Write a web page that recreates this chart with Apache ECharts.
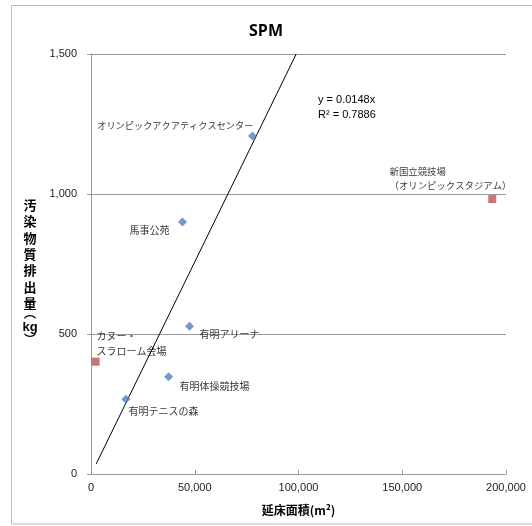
<!DOCTYPE html>
<html><head><meta charset="utf-8">
<script src="https://cdn.jsdelivr.net/npm/echarts@6/dist/echarts.min.js"></script>
<style>html,body{margin:0;padding:0;background:#fff}#c{width:532px;height:526px}</style>
</head><body><div id="c"></div>
<script>
// data
const blueNames = ['オリンピックアクアティクスセンター','馬事公苑','有明アリーナ','有明体操競技場','有明テニスの森'];
const blueX = [77800, 44100, 47500, 37400, 16800];
const blueY = [1207, 900, 528, 347, 267];
const redNames = ['カヌー・\nスラローム会場','新国立競技場\n（オリンピックスタジアム）'];
const redX = [2200, 193400];
const redY = [401, 982];
const trendX = [2500, 98900];
const trendY = [36, 1500];
const yTicks = [0, 500, 1000, 1500];
const xTicks = [0, 50000, 100000, 150000, 200000];

const jp = '"Noto Sans CJK JP", sans-serif';
const blueLabelPos = [[5.5,-6.5,'right',9.2],[-48.5,12.5,'left',10],[14.5,12.5,'left',10],[15.5,13.5,'left',10],[7.2,16.9,'left',10]];
const redLabelPos = [[5,-14,'left',10],[-98.7,-16.7,'left',9.4]];

const blueData = blueX.map((x,i)=>({
  value:[x, blueY[i]], name: blueNames[i],
  label:{show:true, formatter: blueNames[i], fontSize: blueLabelPos[i][3], position:[blueLabelPos[i][0], blueLabelPos[i][1]], align: blueLabelPos[i][2], verticalAlign:'middle'}
}));
const redData = redX.map((x,i)=>({
  value:[x, redY[i]], name: redNames[i],
  label:{show:true, formatter: redNames[i], fontSize: redLabelPos[i][3], position:[redLabelPos[i][0], redLabelPos[i][1]], align: redLabelPos[i][2], verticalAlign:'middle', lineHeight:14.5}
}));
const fmt = v => v.toLocaleString('en-US');

const chart = echarts.init(document.getElementById('c'), null, {renderer:'canvas'});
chart.setOption({
  animation:false,
  backgroundColor:'#fff',
  title:{text:'SPM', left:'center', top:18, textStyle:{fontFamily:'"Open Sans", sans-serif', fontWeight:'bold', fontSize:16, color:'#000'}},
  grid:{left:91, right:26, top:54, bottom:52},
  xAxis:{type:'value', min:xTicks[0], max:xTicks[xTicks.length-1], interval:50000,
    name:'延床面積(m²)', nameLocation:'middle', nameGap:30,
    nameTextStyle:{fontFamily:jp, fontWeight:'bold', fontSize:12, color:'#000'},
    axisLine:{lineStyle:{color:'#999'}}, axisTick:{show:true, inside:true, length:4, lineStyle:{color:'#999'}},
    axisLabel:{formatter:fmt, color:'#222', fontSize:11, fontFamily:'"Liberation Sans", sans-serif', margin:8},
    splitLine:{show:false}},
  yAxis:{type:'value', min:yTicks[0], max:yTicks[yTicks.length-1], interval:500,
    axisLine:{show:true, lineStyle:{color:'#999'}}, axisTick:{show:true, length:4, lineStyle:{color:'#999'}},
    axisLabel:{formatter:fmt, color:'#222', fontSize:11, fontFamily:'"Liberation Sans", sans-serif', margin:14},
    splitLine:{show:true, lineStyle:{color:'#999'}}},
  graphic:[
    {type:'rect', shape:{x:11.5, y:5.5, width:540, height:518.5}, style:{fill:'none', stroke:'#bbb', lineWidth:1}, silent:true, z:-10},
    {type:'text', left:318, top:92, style:{text:'y = 0.0148x\nR² = 0.7886', font:'11px "Liberation Sans", sans-serif', fill:'#000', lineHeight:15}},
    {type:'text', x:30, y:197, style:{text:'汚\n染\n物\n質\n排\n出\n量', font:'bold 13px "Noto Sans CJK JP"', fill:'#000', lineHeight:16.3, align:'center', verticalAlign:'top'}},
    {type:'text', x:30, y:313, style:{text:'︵', font:'bold 12px "Noto Sans CJK JP"', fill:'#000', align:'center', verticalAlign:'middle'}},
    {type:'text', x:30, y:327, style:{text:'kg', font:'bold 13px "Liberation Sans"', fill:'#000', align:'center', verticalAlign:'middle'}},
    {type:'text', x:30, y:339, style:{text:'︶', font:'bold 12px "Noto Sans CJK JP"', fill:'#000', align:'center', verticalAlign:'middle'}}
  ],
  series:[
    {type:'line', data: trendX.map((x,i)=>[x, trendY[i]]), symbol:'none', lineStyle:{color:'#000', width:1}, z:1, silent:true},
    {type:'scatter', data: blueData, symbol:'diamond', symbolSize:9, itemStyle:{color:'#4F81BD'}, z:3,
      label:{fontFamily:jp, fontSize:10, color:'#000'}},
    {type:'scatter', data: redData, symbol:'rect', symbolSize:8, itemStyle:{color:'#C0504D'}, z:3,
      label:{fontFamily:jp, fontSize:10, color:'#000'}}
  ]
});
</script></body></html>
